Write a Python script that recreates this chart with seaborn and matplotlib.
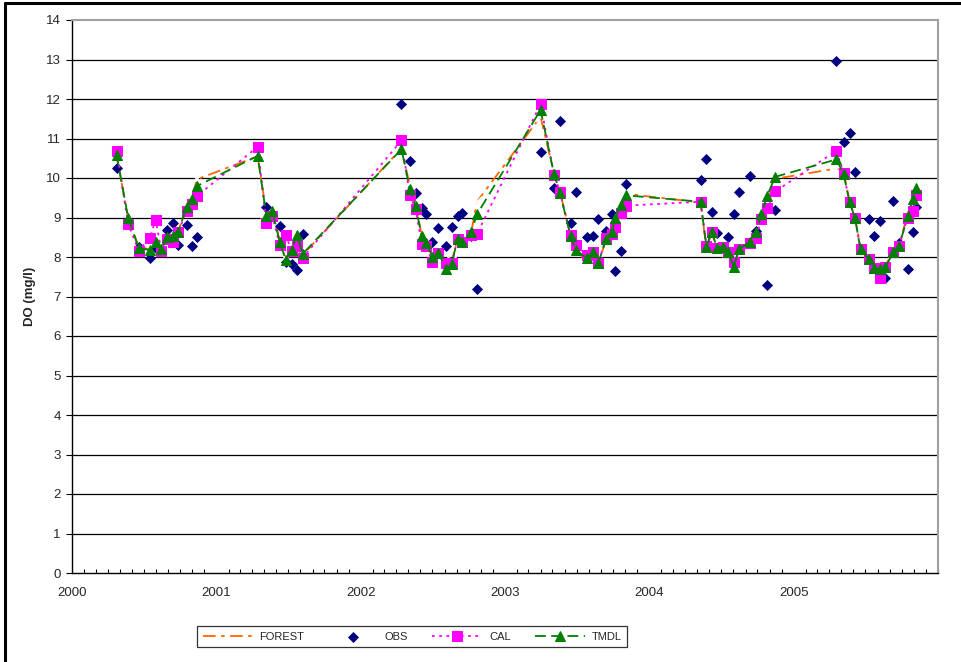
import matplotlib
matplotlib.use("Agg")
import matplotlib.pyplot as plt
import matplotlib.dates as mdates
from matplotlib.lines import Line2D
import seaborn as sns
import pandas as pd
import numpy as np

# ---------------- data ----------------
DATES = [
    "2000-04-23", "2000-05-22", "2000-06-18", "2000-07-16", "2000-07-31", "2000-08-14",
    "2000-08-29", "2000-09-12", "2000-09-26", "2000-10-17", "2000-10-31", "2000-11-13",
    "2001-04-15", "2001-05-07", "2001-05-22", "2001-06-10", "2001-06-25", "2001-07-10",
    "2001-07-23", "2001-08-07",
    "2002-04-14", "2002-05-05", "2002-05-20", "2002-06-04", "2002-06-16", "2002-07-01",
    "2002-07-16", "2002-08-05", "2002-08-19", "2002-09-03", "2002-09-15", "2002-10-08",
    "2002-10-22",
    "2003-04-01", "2003-05-05", "2003-05-20", "2003-06-16", "2003-06-30", "2003-07-27",
    "2003-08-11", "2003-08-25", "2003-09-14", "2003-09-28", "2003-10-07", "2003-10-21",
    "2003-11-04",
    "2004-05-10", "2004-05-25", "2004-06-07", "2004-06-21", "2004-07-05", "2004-07-19",
    "2004-08-02", "2004-08-16", "2004-09-12", "2004-09-27", "2004-10-11", "2004-10-25",
    "2004-11-15",
    "2005-04-19", "2005-05-07", "2005-05-22", "2005-06-05", "2005-06-19", "2005-07-10",
    "2005-07-22", "2005-08-07", "2005-08-21", "2005-09-10", "2005-09-25", "2005-10-16",
    "2005-10-30", "2005-11-07",
]

FOREST = [
    10.55, 9.00, 8.25, 8.20, 8.37, 8.20, 8.50, 8.52, 8.64, 9.30, 9.55, 9.97,
    10.55, 9.10, 9.20, 8.40, 7.95, 8.15, 8.50, 8.05,
    10.75, 9.82, 9.35, 8.55, 8.40, 8.05, 8.20, 7.85, 7.90, 8.45, 8.40, 8.65, 9.40,
    11.55, 10.12, 9.65, 8.55, 8.20, 7.86, 8.12, 7.85, 8.43, 8.60, 8.95, 9.30, 9.60,
    9.38, 8.20, 8.62, 8.20, 8.22, 8.10, 7.80, 8.20, 8.35, 8.55, 8.81, 9.35, 9.98,
    10.24, 10.15, 9.42, 9.00, 8.22, 7.95, 7.75, 7.70, 7.78, 8.15, 8.32, 9.08, 9.45, 9.80,
]

OBS = [
    10.26, None, 8.26, 7.97, 8.24, 8.15, 8.68, 8.86, 8.30, 8.81, 8.29, 8.50,
    None, 9.27, None, 8.78, 7.87, 7.82, 7.67, 8.58,
    11.87, 10.44, 9.63, 9.25, 9.10, 8.39, 8.73, 8.28, 8.75, 9.04, 9.12, 8.52, 7.18,
    10.65, 9.74, 11.44, 8.87, 9.65, 8.50, 8.54, 8.95, 8.65, 9.10, 7.65, 8.14, 9.84,
    9.95, 10.47, 9.15, 8.62, None, 8.50, 9.10, 9.64, 10.04, 8.67, None, 7.29, 9.19,
    12.95, 10.90, 11.13, 10.15, None, 8.95, 8.54, 8.90, 7.46, 9.41, 8.36, 7.69, 8.64, 9.26,
]

CAL = [
    10.69, 8.84, 8.16, 8.49, 8.94, 8.16, 8.45, 8.37, 8.63, 9.17, 9.34, 9.55,
    10.79, 8.87, 9.05, 8.30, 8.56, 8.15, 8.27, 7.98,
    10.95, 9.57, 9.21, 8.33, 8.28, 7.88, 8.10, 7.86, 7.84, 8.46, 8.39, 8.55, 8.58,
    11.87, 10.08, 9.65, 8.55, 8.30, 8.04, 8.13, 7.84, 8.48, 8.58, 8.75, 9.12, 9.30,
    9.40, 8.28, 8.64, 8.24, 8.26, 8.12, 7.87, 8.20, 8.36, 8.48, 8.95, 9.23, 9.66,
    10.69, 10.12, 9.40, 8.98, 8.19, 7.94, 7.71, 7.46, 7.75, 8.12, 8.28, 9.00, 9.17, 9.57,
]

TMDL = [
    10.58, 9.00, 8.22, 8.18, 8.37, 8.20, 8.50, 8.52, 8.64, 9.26, 9.47, 9.80,
    10.56, 9.03, 9.17, 8.37, 7.93, 8.18, 8.56, 8.08,
    10.73, 9.72, 9.29, 8.52, 8.35, 8.01, 8.11, 7.69, 7.82, 8.46, 8.39, 8.64, 9.08,
    11.72, 10.10, 9.63, 8.53, 8.17, 7.97, 8.12, 7.85, 8.45, 8.63, 8.99, 9.32, 9.56,
    9.40, 8.26, 8.64, 8.23, 8.25, 8.12, 7.75, 8.21, 8.38, 8.63, 9.08, 9.54, 10.03,
    10.47, 10.10, 9.40, 8.98, 8.19, 7.94, 7.71, 7.69, 7.75, 8.12, 8.28, 9.04, 9.47, 9.75,
]

YEAR_LABELS = ["2000", "2001", "2002", "2003", "2004", "2005"]
Y_TICKS = list(range(0, 15))

# ---------------- figure ----------------
sns.set_theme(style="white")
plt.rcParams["font.family"] = ["Liberation Sans", "DejaVu Sans"]

df = pd.DataFrame({
    "date": pd.to_datetime(DATES),
    "FOREST": FOREST,
    "OBS": pd.to_numeric(pd.Series(OBS, dtype="float")),
    "CAL": CAL,
    "TMDL": TMDL,
})

fig = plt.figure(figsize=(9.62, 6.62), dpi=100)
ax = fig.add_axes([72 / 962, 1 - 573 / 662, (938 - 72) / 962, (573 - 20) / 662])

for v in Y_TICKS[1:-1]:
    ax.axhline(v, color="#000000", lw=0.9, zorder=0)

sns.lineplot(data=df, x="date", y="FOREST", ax=ax, color="#FF6600", lw=1.3,
             marker="x", markersize=7, mew=1.3, dashes=False, sort=False,
             estimator=None, zorder=3, label="FOREST")
ax.lines[-1].set_dashes((7, 3, 2, 3))

sns.scatterplot(data=df, x="date", y="OBS", ax=ax, color="#000080", marker="D",
                s=32, edgecolor="#000080", linewidth=0, zorder=4, label="OBS")

sns.lineplot(data=df, x="date", y="CAL", ax=ax, color="#FF00FF", lw=1.3,
             marker="s", markersize=7, mec="#FF00FF", sort=False,
             estimator=None, zorder=5, label="CAL")
ax.lines[-1].set_dashes((1.5, 2.5))

sns.lineplot(data=df, x="date", y="TMDL", ax=ax, color="#008000", lw=1.3,
             marker="^", markersize=7.5, mec="#008000", sort=False,
             estimator=None, zorder=6, label="TMDL")
ax.lines[-1].set_dashes((6, 3))

ax.set_ylim(0, 14)
ax.set_yticks(Y_TICKS)
ax.set_xlim(pd.Timestamp("2000-01-01"), pd.Timestamp("2006-01-01"))
year_pos = [pd.Timestamp(f"{y}-01-01") for y in YEAR_LABELS]
ax.set_xticks(year_pos)
ax.set_xticklabels(YEAR_LABELS)
ax.xaxis.set_minor_locator(mdates.MonthLocator())

ax.tick_params(axis="x", which="major", direction="out", length=5, width=0.8,
               color="black", labelsize=9.5, pad=5)
ax.tick_params(axis="x", which="minor", direction="in", length=3, width=0.8,
               color="black", bottom=True)
ax.tick_params(axis="y", which="major", direction="out", length=4, width=0.8,
               color="black", labelsize=9.5, pad=4, left=True)

ax.set_xlabel("")
ax.set_ylabel("DO (mg/l)", fontsize=9.5, fontweight="bold", labelpad=20)
ax.yaxis.set_label_coords(-36 / 866, 0.5)

for s in ["left", "bottom"]:
    ax.spines[s].set_color("black")
    ax.spines[s].set_linewidth(1.0)
for s in ["top", "right"]:
    ax.spines[s].set_color("#A0A0A0")
    ax.spines[s].set_linewidth(1.5)

handles, labels = ax.get_legend_handles_labels()
ax.get_legend().remove()
leg = fig.legend(handles, labels, loc="center", ncol=4,
                 bbox_to_anchor=(197 / 962, 13 / 662, 430 / 962, 25 / 662),
                 mode="expand", fontsize=8, frameon=True, fancybox=False,
                 edgecolor="black", handlelength=4.5, borderaxespad=0,
                 borderpad=0.5, handletextpad=0.6)
leg.get_frame().set_linewidth(0.9)

# outer chart border (left and top edges visible in reference)
fig.add_artist(Line2D([4.5 / 962, 4.5 / 962], [0, 1 - 3 / 662], color="black", lw=2.2,
                      transform=fig.transFigure))
fig.add_artist(Line2D([4.5 / 962, 1], [1 - 3 / 662, 1 - 3 / 662], color="black", lw=2.2,
                      transform=fig.transFigure))

fig.savefig("out.png", dpi=100)
